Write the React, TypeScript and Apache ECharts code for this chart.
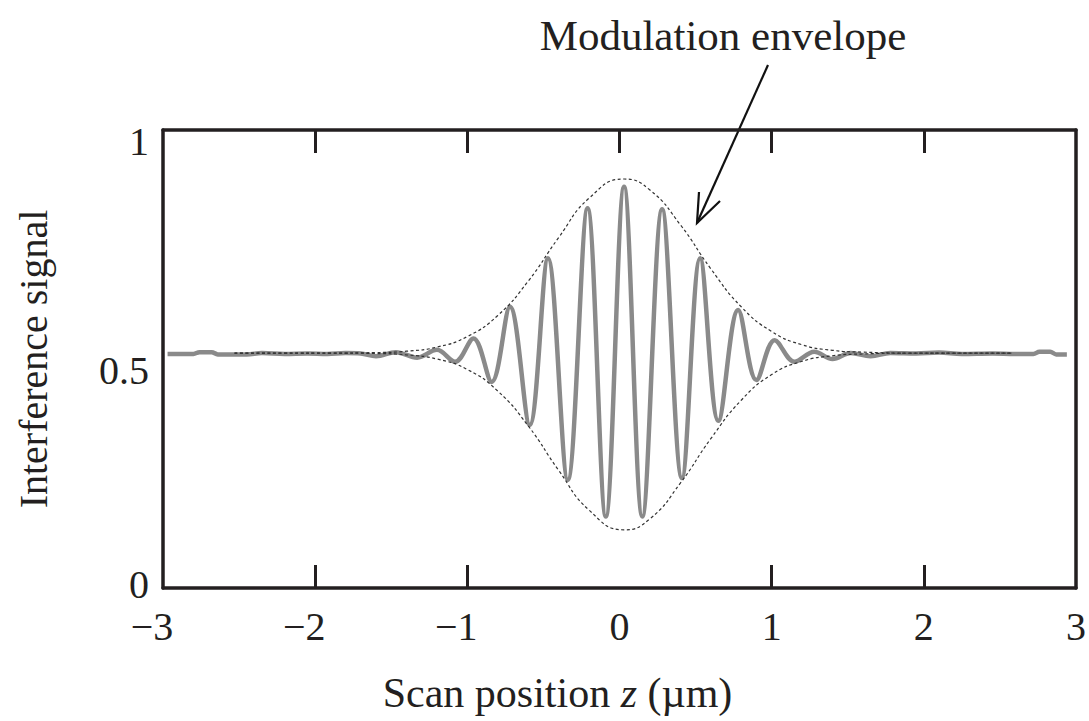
import React, { useEffect, useRef } from "react";
import * as echarts from "echarts";

// Interference signal: extrema and tail points
const signalZ = [
  -2.97, -2.8, -2.76, -2.68, -2.64, -2.45, -2.35, -2.2, -2.05, -1.92, -1.8, -1.7,
  -1.6, -1.47, -1.33, -1.2, -1.08, -0.96, -0.84, -0.72, -0.59, -0.47, -0.34, -0.21,
  -0.09, 0.03, 0.15, 0.28, 0.41, 0.53, 0.65, 0.78, 0.9, 1.02, 1.15, 1.28, 1.4, 1.52,
  1.65, 1.78, 1.95, 2.1, 2.25, 2.45, 2.6, 2.72, 2.76, 2.83, 2.87, 2.94,
];
const signalV = [
  0.511, 0.511, 0.515, 0.515, 0.51, 0.51, 0.513, 0.511, 0.512, 0.511, 0.513, 0.512,
  0.506, 0.515, 0.503, 0.52, 0.494, 0.545, 0.45, 0.614, 0.356, 0.72, 0.236, 0.829,
  0.156, 0.876, 0.156, 0.827, 0.24, 0.72, 0.365, 0.607, 0.454, 0.541, 0.494, 0.516, 0.5, 0.513,
  0.506, 0.513, 0.512, 0.514, 0.511, 0.512, 0.511, 0.511, 0.516, 0.516, 0.51, 0.51,
];

// Modulation envelope (dashed), upper and lower
const envZ = [
  -2.53, -2.2, -1.9, -1.6, -1.4, -1.2, -1.0, -0.8, -0.6, -0.4, -0.2, 0.03, 0.2, 0.4,
  0.6, 0.8, 1.0, 1.2, 1.4, 1.6, 1.9, 2.2, 2.58,
];
const envUpper = [
  0.513, 0.513, 0.513, 0.514, 0.517, 0.526, 0.549, 0.595, 0.67, 0.765, 0.851, 0.893,
  0.869, 0.793, 0.697, 0.614, 0.56, 0.531, 0.519, 0.515, 0.513, 0.513, 0.513,
];
const envLower = [
  0.513, 0.513, 0.513, 0.512, 0.509, 0.5, 0.477, 0.43, 0.354, 0.257, 0.17, 0.127,
  0.151, 0.229, 0.326, 0.41, 0.466, 0.495, 0.507, 0.511, 0.513, 0.513, 0.513,
];

const xTicksBottom = [-2, -1, 1, 2];
const xTicksTop = [-2, -1, 0, 1, 2];
const yLabels = [0, 0.5, 1];

const FONT = "Liberation Serif";
const INK = "#231f20";

export default function App() {
  const ref = useRef<HTMLDivElement>(null);
  useEffect(() => {
    if (!ref.current) return;
    const chart = echarts.init(ref.current, null, { renderer: "svg" });
    const pair = (xs: number[], ys: number[]) => xs.map((x, i) => [x, ys[i]]);
    const axisLine = { show: true, onZero: false, lineStyle: { color: INK, width: 3.5 } };
    chart.setOption({
      animation: false,
      backgroundColor: "#ffffff",
      grid: { left: 163, right: 8, top: 130, bottom: 133, containLabel: false },
      xAxis: [
        {
          type: "value",
          position: "bottom",
          min: -3,
          max: 3,
          interval: 1,
          axisLine,
          splitLine: { show: false },
          axisTick: {
            show: true,
            inside: true,
            length: 23,
            customValues: xTicksBottom,
            lineStyle: { color: INK, width: 3 },
          },
          axisLabel: {
            margin: 18,
            fontFamily: FONT,
            fontSize: 40,
            color: INK,
            formatter: (v: number) =>
              v < 0 ? `{m|\u2212${-v}}` : `{p|${v}}`,
            rich: {
              m: { fontFamily: FONT, fontSize: 40, color: INK, padding: [0, 22, 0, 0] },
              p: { fontFamily: FONT, fontSize: 40, color: INK },
            },
          },
          name: "Scan position {i|z} (\u00b5m)",
          nameLocation: "middle",
          nameGap: 84,
          nameTextStyle: {
            fontFamily: FONT,
            fontSize: 42,
            color: INK,
            padding: [0, 124, 0, 0],
            rich: { i: { fontFamily: FONT, fontSize: 42, fontStyle: "italic", color: INK } },
          },
        },
        {
          type: "value",
          position: "top",
          min: -3,
          max: 3,
          interval: 1,
          axisLine,
          splitLine: { show: false },
          axisTick: {
            show: true,
            inside: true,
            length: 23,
            customValues: xTicksTop,
            lineStyle: { color: INK, width: 3 },
          },
          axisLabel: { show: false },
        },
      ],
      yAxis: [
        {
          type: "value",
          position: "left",
          min: 0,
          max: 1,
          interval: 0.5,
          axisLine,
          splitLine: { show: false },
          axisTick: { show: false },
          axisLabel: {
            margin: 14,
            customValues: yLabels,
            formatter: (v: number) => (v === 0 ? `{z|0}` : `{a|${v}}`),
            rich: {
              z: { fontFamily: FONT, fontSize: 40, color: INK, padding: [0, 0, 8, 0] },
              a: { fontFamily: FONT, fontSize: 40, color: INK, padding: [22, 0, 0, 0] },
            },
          },
          name: "Interference signal",
          nameLocation: "middle",
          nameGap: 110,
          nameTextStyle: { fontFamily: FONT, fontSize: 40, color: INK },
        },
        {
          type: "value",
          position: "right",
          min: 0,
          max: 1,
          interval: 0.5,
          axisLine,
          splitLine: { show: false },
          axisTick: { show: false },
          axisLabel: { show: false },
        },
      ],
      series: [
        {
          type: "line",
          name: "Upper envelope",
          data: pair(envZ, envUpper),
          smooth: 0.5,
          symbol: "none",
          lineStyle: { color: "#333", width: 1.2, type: [3, 2.5] },
          z: 3,
        },
        {
          type: "line",
          name: "Lower envelope",
          data: pair(envZ, envLower),
          smooth: 0.5,
          symbol: "none",
          lineStyle: { color: "#333", width: 1.2, type: [3, 2.5] },
          z: 3,
        },
        {
          type: "line",
          name: "Interference signal",
          data: pair(signalZ, signalV),
          smooth: 0.36,
          symbol: "none",
          lineStyle: { color: "#8a8a8a", width: 4.5 },
          z: 2,
        },
      ],
      graphic: [
        {
          type: "text",
          x: 723,
          y: 35,
          style: {
            text: "Modulation envelope",
            fontFamily: FONT,
            fontSize: 43,
            fill: INK,
            align: "center",
            verticalAlign: "middle",
          },
        },
        {
          type: "line",
          shape: { x1: 768, y1: 65, x2: 697, y2: 223 },
          style: { stroke: "#111", lineWidth: 2.2 },
        },
        {
          type: "polyline",
          shape: { points: [[699, 192], [697, 223], [720, 201]] },
          style: { stroke: "#111", lineWidth: 2.2, fill: null },
        },
      ],
    });
    return () => chart.dispose();
  }, []);
  return (
    <div
      ref={ref}
      style={{ position: "fixed", left: 0, top: 0, width: 1089, height: 721, background: "#fff" }}
    />
  );
}
